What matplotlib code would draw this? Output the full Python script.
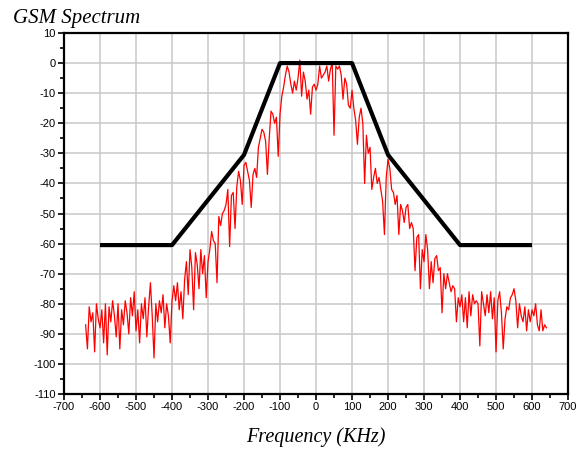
import numpy as np
import matplotlib
matplotlib.use("Agg")
from matplotlib import pyplot as plt
from matplotlib.ticker import MultipleLocator

plt.rcParams["axes.unicode_minus"] = False

# spectral mask (kHz, dB)
mask_freq = [-600, -400, -200, -100, 100, 200, 400, 600]
mask_db = [-60.5, -60.5, -30.5, 0, 0, -30.5, -60.5, -60.5]

# measured spectrum, one value every 5 kHz from -640 to 640
spec_start, spec_step = -640, 5
spectrum_db = [
    -87, -95, -81, -86, -83, -96, -80, -85, -88, -82,
    -93, -80, -97, -81, -86, -79, -84, -91, -80, -95,
    -82, -87, -79, -83, -90, -78, -84, -76, -89, -82,
    -93, -80, -85, -78, -91, -81, -73, -84, -98, -80,
    -86, -79, -83, -77, -88, -80, -84, -93, -79, -74,
    -79, -73, -82, -76, -85, -72, -66, -77, -62, -68,
    -82, -63, -67, -75, -62, -70, -64, -78, -66, -62,
    -56, -59, -60, -73, -51, -54, -50, -49, -47, -42,
    -61, -44, -43, -55, -41, -36, -39, -47, -34, -33,
    -36, -39, -48, -37, -35, -38, -28, -25, -22, -23,
    -26, -37, -25, -16, -17, -20, -18, -31, -17, -11,
    -8, -4, -1, -3, -7, -10, -6, -9, -5, 1,
    -11, -3, -6, -12, -9, -17, -8, -7, -9, -7,
    -1, -5, -4, -3, -1, -6, -2, 0, -24, -1,
    -2, -1, -4, -12, -5, -7, -14, -15, -9, -15,
    -19, -27, -18, -15, -20, -40, -24, -30, -28, -42,
    -38, -35, -40, -38, -42, -46, -57, -38, -32, -35,
    -42, -43, -47, -44, -57, -47, -49, -53, -48, -47,
    -55, -53, -55, -69, -58, -57, -75, -62, -66, -57,
    -62, -75, -66, -73, -65, -64, -69, -68, -83, -70,
    -75, -70, -73, -76, -74, -75, -86, -78, -81, -77,
    -86, -78, -88, -76, -84, -77, -80, -79, -80, -94,
    -76, -80, -84, -77, -83, -76, -85, -78, -96, -79,
    -76, -83, -95, -85, -81, -82, -78, -77, -75, -79,
    -88, -80, -84, -86, -81, -89, -82, -86, -82, -84,
    -80, -87, -89, -82, -89, -87, -88,
]
spec_freq = spec_start + spec_step * np.arange(len(spectrum_db))

fig = plt.figure(figsize=(5.82, 4.5), dpi=100)
ax = fig.add_axes([0.110, 0.1244, 0.866, 0.8023])

ax.plot(spec_freq, spectrum_db, color="red", lw=0.9, zorder=3)
ax.plot(mask_freq, mask_db, color="black", lw=3, solid_capstyle="butt", zorder=4)

ax.set_xlim(-700, 700)
ax.set_ylim(-110, 10)
ax.xaxis.set_major_locator(MultipleLocator(100))
ax.xaxis.set_minor_locator(MultipleLocator(50))
ax.yaxis.set_major_locator(MultipleLocator(10))
ax.yaxis.set_minor_locator(MultipleLocator(5))
ax.grid(True, which="major", color="#c8c8c8", lw=1.1, zorder=0)
ax.set_axisbelow(True)

ax.tick_params(which="major", direction="out", length=4, width=1.2,
               labelsize=8, pad=2)
ax.tick_params(which="minor", direction="out", length=3, width=1.2)
for lab in ax.get_xticklabels() + ax.get_yticklabels():
    lab.set_family("Liberation Sans")
for s in ax.spines.values():
    s.set_linewidth(1.6)

fig.text(0.022, 0.96, "GSM Spectrum", family="Liberation Serif", style="italic",
         fontsize=15, ha="left", va="center")
fig.text(0.543, 0.029, "Frequency (KHz)", family="Liberation Serif", style="italic",
         fontsize=14.5, ha="center", va="center")

fig.savefig("out.png", dpi=100)
